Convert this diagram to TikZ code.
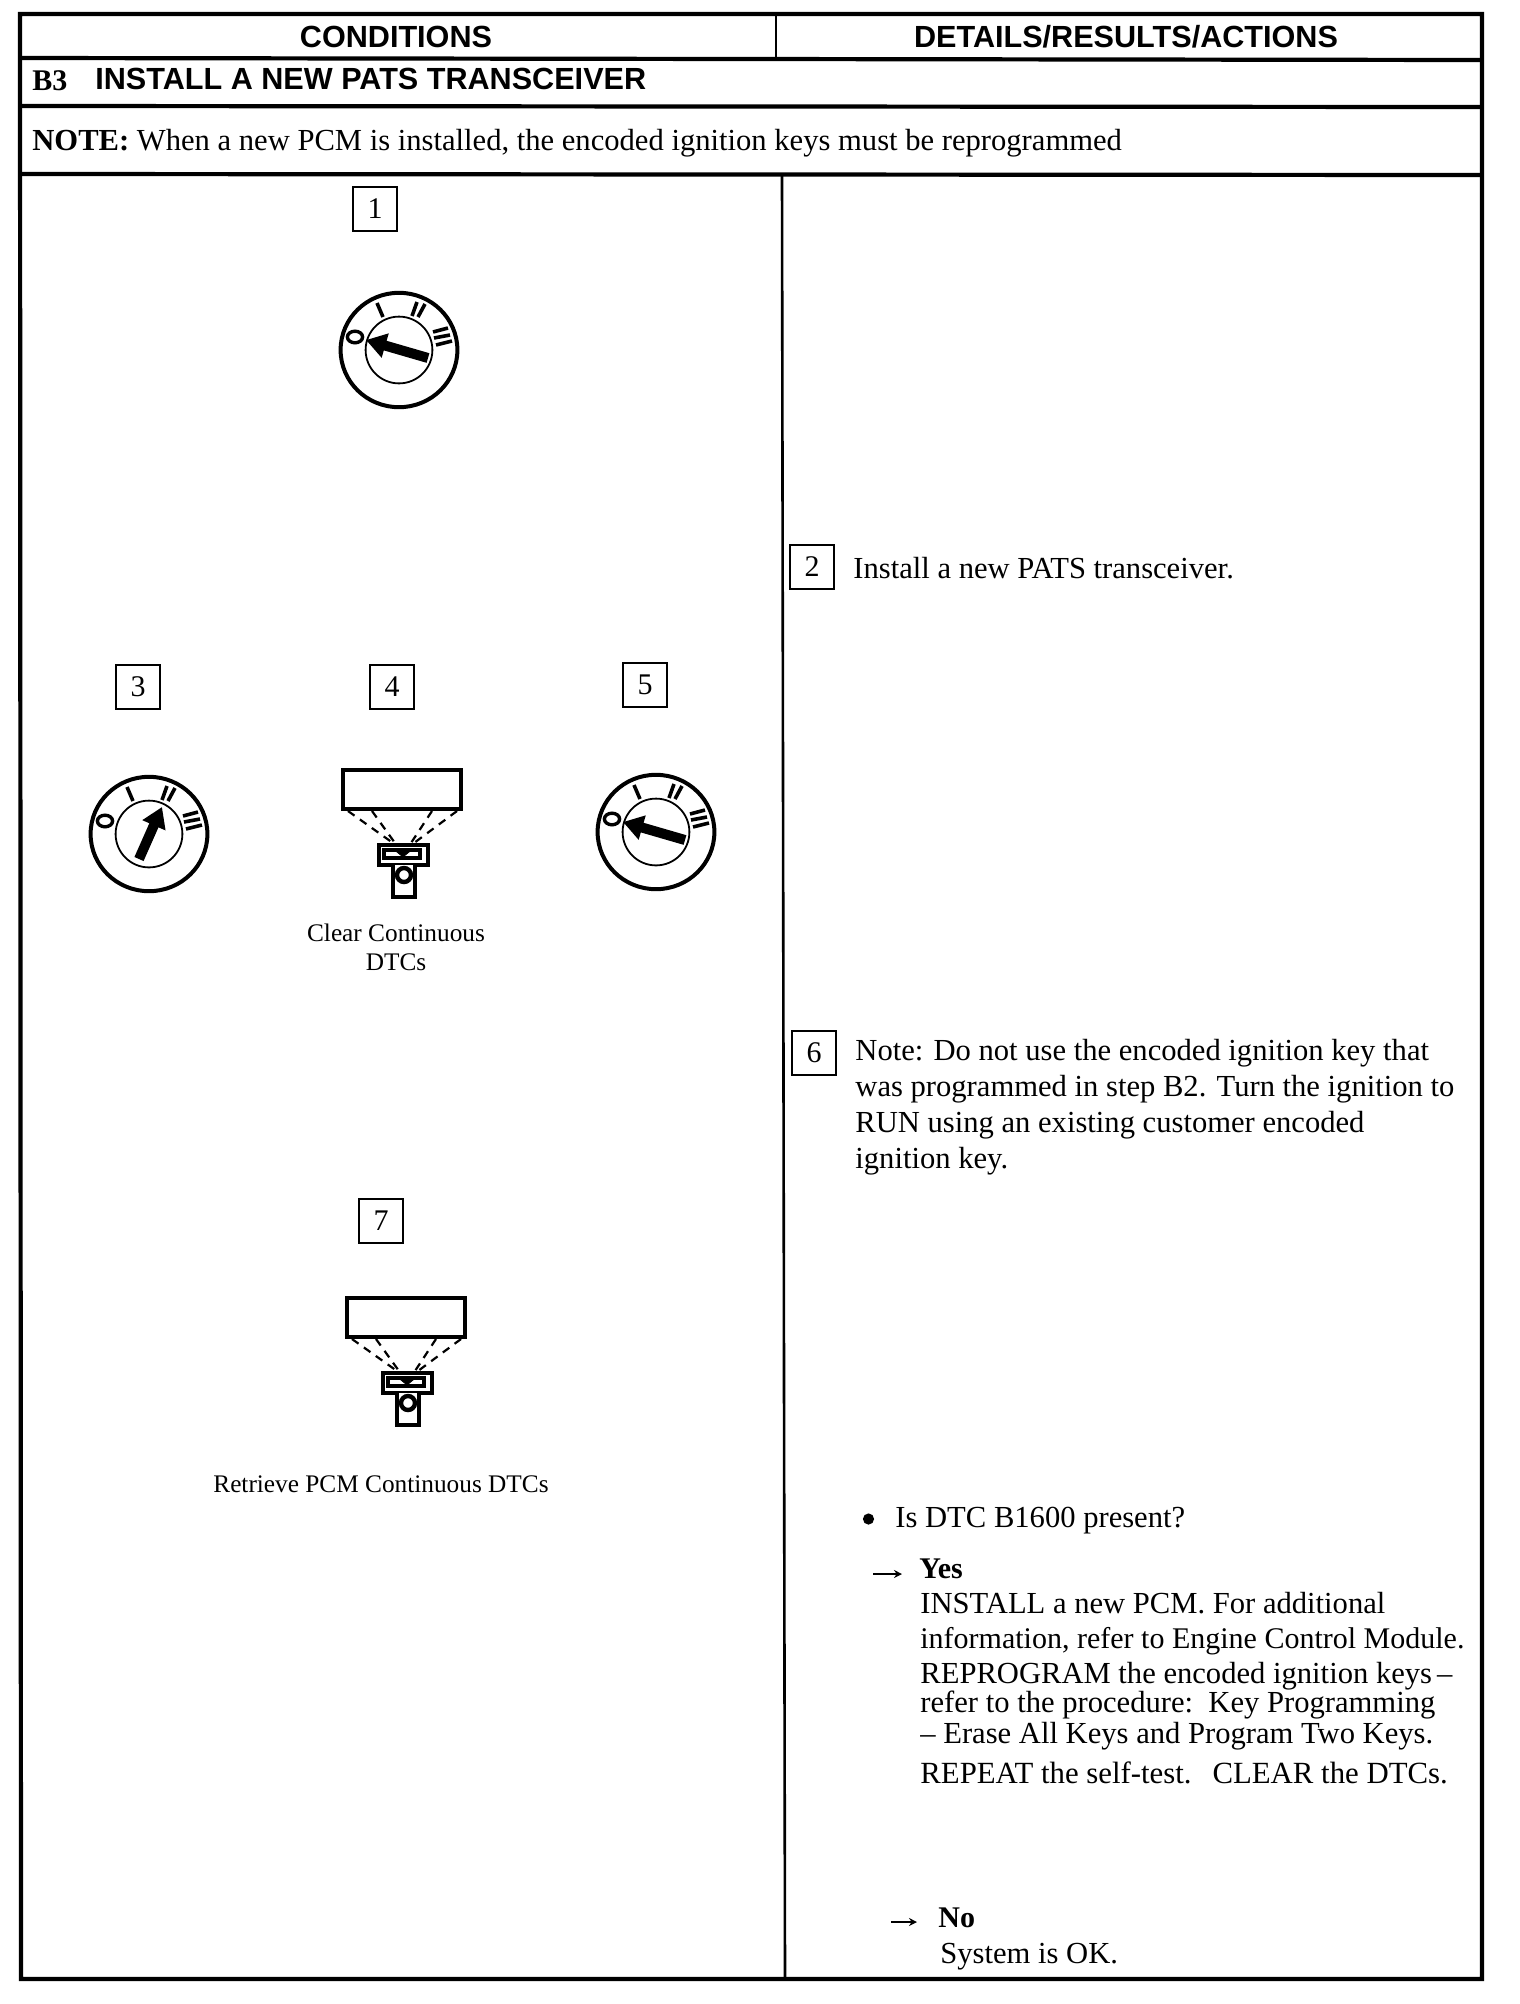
\documentclass[tikz,border=0pt]{standalone}
\usepackage{fontspec}
\setmainfont{Liberation Serif}
\newfontfamily\hsans{Liberation Sans}
\usetikzlibrary{arrows.meta}
\tikzset{
  rule/.style={line width=2.1pt,black},
  thinrule/.style={line width=1.3pt,black},
  txt/.style={anchor=base west,inner sep=0pt,font=\fontsize{15.3}{18}\selectfont},
  captxt/.style={anchor=base,inner sep=0pt,font=\fontsize{12.65}{14}\selectfont},
  head/.style={anchor=base,inner sep=0pt,font=\hsans\bfseries\fontsize{15.3}{18}\selectfont},
  boldtxt/.style={txt,font=\bfseries\fontsize{15}{18}\selectfont},
  numbox/.style={draw,line width=0.9pt,minimum width=22pt,minimum height=22pt,inner sep=0pt,font=\fontsize{15}{18}\selectfont},
  arrowln/.style={line width=0.8pt,-{Stealth[length=4pt,width=4pt]}},
  tickln/.style={line width=1.8pt},
  keyarrow/.style={line width=5pt,-{Triangle[length=10pt,width=12pt]}}
}
% ignition switch: name, x, y, tail (x,y), tip (x,y)
\newcommand{\ignsw}[7]{%
  \begin{scope}[shift={(#2,#3)}]
    \draw[line width=2pt] (0,0) circle [x radius=29.2pt,y radius=28.6pt];
    \draw[line width=0.9pt] (0,0) circle [radius=16.7pt];
    \draw[line width=1.7pt] (-44,-13) circle [x radius=3.8pt,y radius=2.9pt];
    \draw[tickln] (-22,-47) -- (-16,-33);
    \draw[tickln] (18,-48) -- (13,-34);
    \draw[tickln] (26,-46) -- (19,-33);
    \draw[tickln] (34,-18) -- (49,-22);
    \draw[tickln] (35,-12) -- (51,-15);
    \draw[tickln] (37,-5) -- (53,-9);
    \coordinate (#1tail) at (#4,#5);
    \coordinate (#1tip) at (#6,#7);
    \draw[keyarrow] (#1tail) -- (#1tip);
  \end{scope}}
% scan tool: x, y of the screen's top left corner
\newcommand{\scantool}[2]{%
  \begin{scope}[shift={(#1,#2)}]
    \draw[line width=2pt] (0,0) rectangle (118,39);
    \foreach \a/\b/\c/\d in {5/41/50/73, 29/41/52/73, 89/41/68/73, 114/41/71/73}
      \draw[line width=1.1pt,dash pattern=on 4pt off 3.3pt] (\a,\b) -- (\c,\d);
    \draw[line width=2.2pt,fill=white] (36,75) rectangle (85,95);
    \draw[line width=2.2pt,fill=white] (41,80) rectangle (77,88);
    \draw[fill=black] (54,82) -- (66,82) -- (60,87) -- cycle;
    \draw[line width=2.2pt,fill=white] (50,95) -- (50,127) -- (72,127) -- (72,95);
    \draw[line width=2.2pt,fill=white] (61,105) circle [radius=3.5pt];
  \end{scope}}
\begin{document}
\begin{tikzpicture}[x=0.5pt,y=-0.5pt]
\useasboundingbox[fill=white] (0,0) rectangle (1520,2004);
% table rules
\draw[rule] (20,14) -- (1482,14) -- (1482,1979) -- (21,1979) -- cycle;
\draw[rule] (20,58) -- (1482,60);
\draw[rule] (20,106) -- (1482,107);
\draw[rule] (20,174) -- (1482,175);
\draw[thinrule] (776,14) -- (776,59);
\draw[thinrule] (782,175) -- (785,1979);
% headers
\node[head] (hcond) at (396,47) {CONDITIONS};
\node[head] (hdet) at (1126,47) {DETAILS/RESULTS/ACTIONS};
\node[boldtxt] (b3) at (32,90) {B3};
\node[txt,font=\hsans\bfseries\fontsize{15.3}{18}\selectfont] (b3t) at (95,89) {INSTALL A NEW PATS TRANSCEIVER};
\node[txt] (note) at (32,150) {\textbf{NOTE:} When a new PCM is installed, the encoded ignition keys must be reprogrammed};
% step numbers
\node[numbox] (n1) at (375,209) {1};
\node[numbox] (n2) at (812,567) {2};
\node[numbox] (n3) at (138,687) {3};
\node[numbox] (n4) at (392,687) {4};
\node[numbox] (n5) at (645,685) {5};
\node[numbox] (n6) at (814,1053) {6};
\node[numbox] (n7) at (381,1221) {7};
% ignition switches
\ignsw{a}{399}{350}{29}{8}{-33}{-10}
\ignsw{b}{149}{834}{-10}{25}{13}{-27}
\ignsw{c}{656}{832}{29}{8}{-33}{-10}
% scan tools
\scantool{343}{770}
\scantool{347}{1298}
\node[captxt] (c1) at (396,941) {Clear Continuous};
\node[captxt] (c2) at (396,970) {DTCs};
\node[captxt] (c3) at (381,1492) {Retrieve PCM Continuous DTCs};
% right column
\node[txt] (t2) at (853,578) {Install a new PATS transceiver.};
\node[txt] (t6a) at (855,1060) {Note: Do not use the encoded ignition key that};
\node[txt] (t6b) at (855,1096) {was programmed in step B2. Turn the ignition to};
\node[txt] (t6c) at (855,1132) {RUN using an existing customer encoded};
\node[txt] (t6d) at (855,1168) {ignition key.};
\fill (868.5,1519) circle [radius=2.8pt];
\node[txt] (q) at (895,1527) {Is DTC B1600 present?};
\coordinate (ya) at (873,1574);
\coordinate (yb) at (902,1574);
\draw[arrowln] (ya) -- (yb);
\node[boldtxt] (yes) at (919,1578) {Yes};
\node[txt] (y1) at (920,1613) {INSTALL a new PCM. For additional};
\node[txt,font=\fontsize{15}{18}\selectfont] (y2) at (920,1648) {information, refer to Engine Control Module.};
\node[txt] (y3) at (920,1683) {REPROGRAM the encoded ignition keys\,–};
\node[txt] (y4) at (920,1712) {refer to the procedure:\, Key Programming};
\node[txt] (y5) at (920,1743) {– Erase All Keys and Program Two Keys.};
\node[txt,font=\fontsize{15.4}{18}\selectfont] (y6) at (920,1783) {REPEAT the self-test.\hspace{0.68em}CLEAR the DTCs.};
\coordinate (na) at (891,1922);
\coordinate (nb) at (917,1922);
\draw[arrowln] (na) -- (nb);
\node[boldtxt] (no) at (938,1927) {No};
\node[txt] (sys) at (940,1963) {System is OK.};
\end{tikzpicture}
\end{document}
